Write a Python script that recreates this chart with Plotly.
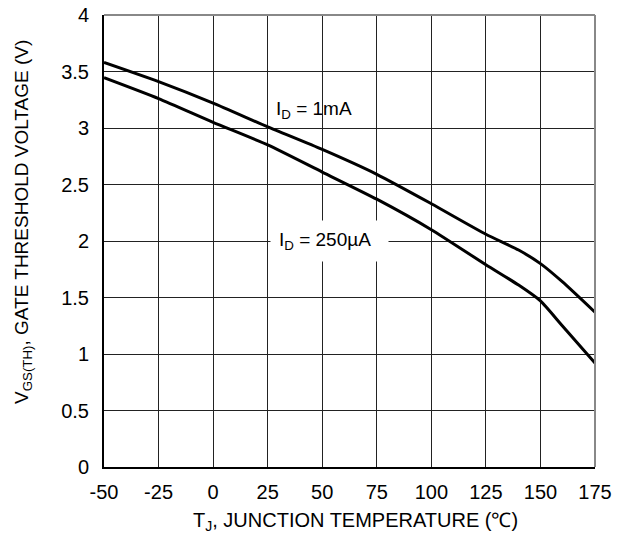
import plotly.graph_objects as go

temp = [-50, -25, 0, 25, 50, 75, 100, 125, 140, 150, 160, 175]
v_1ma = [3.58, 3.41, 3.22, 3.01, 2.81, 2.59, 2.33, 2.06, 1.92, 1.80, 1.64, 1.37]
v_250ua = [3.445, 3.26, 3.05, 2.85, 2.61, 2.37, 2.10, 1.79, 1.61, 1.47, 1.25, 0.92]

x_ticks = [-50, -25, 0, 25, 50, 75, 100, 125, 150, 175]
y_ticks = [0, 0.5, 1, 1.5, 2, 2.5, 3, 3.5, 4]
y_ticktext = ["0", "0.5", "1", "1.5", "2", "2.5", "3", "3.5", "4"]

FONT = "Liberation Sans, Arial, sans-serif"

# plot area in page pixels: left 104, right 595, top 15, bottom 467
PL, PR, PT, PB = 104, 595, 15, 467
PW, PH = PR - PL, PB - PT

fig = go.Figure()
fig.add_trace(go.Scatter(x=temp, y=v_1ma, mode="lines", line=dict(color="black", width=3, shape="spline", smoothing=0.6), showlegend=False))
fig.add_trace(go.Scatter(x=temp, y=v_250ua, mode="lines", line=dict(color="black", width=3, shape="spline", smoothing=0.6), showlegend=False))

fig.add_annotation(x=-50 + (274 - PL) / PW * 225, y=(PB - 110) / PH * 4, xref="x", yref="y",
                   text="I<sub>D</sub> = 1mA", showarrow=False,
                   font=dict(family=FONT, size=19, color="black"), xanchor="left", yanchor="middle")
fig.add_annotation(x=-50 + (270 - PL) / PW * 225, y=2.0, xref="x", yref="y",
                   text="I<sub>D</sub> = 250µA  ", showarrow=False,
                   font=dict(family=FONT, size=19, color="black"), xanchor="left", yanchor="middle",
                   bgcolor="white", borderpad=8)

fig.add_annotation(x=(23 - PL) / PW, y=(PB - 222) / PH, xref="paper", yref="paper",
                   text="V<sub>GS(TH)</sub>, GATE THRESHOLD VOLTAGE (V)", showarrow=False, textangle=-90,
                   font=dict(family=FONT, size=19, color="black"), xanchor="center", yanchor="middle")
fig.add_annotation(x=(355 - PL) / PW, y=(PB - 521) / PH, xref="paper", yref="paper",
                   text="T<sub>J</sub>, JUNCTION TEMPERATURE (℃)", showarrow=False,
                   font=dict(family=FONT, size=20, color="black"), xanchor="center", yanchor="middle")

# the page body adds an 8px offset; compensate in figure size and margins
OFF = 8
fig.update_layout(
    width=631 - OFF, height=538 - OFF,
    margin=dict(l=PL - OFF, r=631 - PR, t=PT - OFF, b=538 - PB),
    paper_bgcolor="white", plot_bgcolor="white",
    font=dict(family=FONT, size=20, color="black"),
    xaxis=dict(range=[-50, 175], tickvals=x_ticks, ticktext=[str(v) for v in x_ticks],
               showgrid=True, gridcolor="#222", gridwidth=1, zeroline=False, automargin=False,
               showline=True, linecolor="black", linewidth=2, ticks="", ticklabelstandoff=6,
               ticklabeloverflow="allow", tickfont=dict(size=20)),
    yaxis=dict(range=[0, 4], tickvals=y_ticks, ticktext=y_ticktext,
               showgrid=True, gridcolor="#222", gridwidth=1, zeroline=False, automargin=False,
               showline=True, linecolor="black", linewidth=2, ticks="", ticklabelstandoff=9,
               ticklabeloverflow="allow", tickfont=dict(size=20)),
)
fig.add_shape(type="line", xref="paper", yref="paper", x0=0, x1=1, y0=1, y1=1, line=dict(color="#888", width=2))
fig.add_shape(type="line", xref="paper", yref="paper", x0=1, x1=1, y0=0, y1=1, line=dict(color="#888", width=2))

fig.write_html("out.html")
